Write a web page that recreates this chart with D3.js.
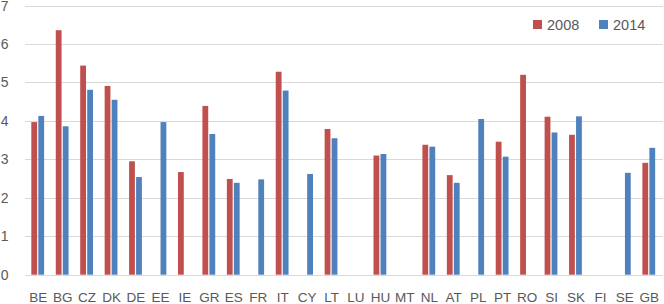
<!DOCTYPE html>
<html><head><meta charset="utf-8">
<script src="https://cdn.jsdelivr.net/npm/d3@7"></script>
<style>body{margin:0;background:#fff}svg{display:block}</style>
</head><body>
<svg id="c" width="664" height="304"></svg>
<script>
const categories = ["BE","BG","CZ","DK","DE","EE","IE","GR","ES","FR","IT","CY","LT","LU","HU","MT","NL","AT","PL","PT","RO","SI","SK","FI","SE","GB"];
const values2008 = [3.97,6.36,5.44,4.91,2.95,null,2.67,4.39,2.49,null,5.28,null,3.79,null,3.10,null,3.38,2.59,null,3.46,5.20,4.11,3.64,null,null,2.91];
const values2014 = [4.13,3.86,4.81,4.55,2.54,3.97,null,3.66,2.39,2.48,4.79,2.62,3.55,null,3.14,null,3.33,2.39,4.05,3.07,null,3.70,4.12,null,2.65,3.30];
const seriesNames = ["2008","2014"];
const colors = ["#C0504D","#4F81BD"];
const yTicks = [0,1,2,3,4,5,6,7];

const svg = d3.select("#c");
const x = d3.scaleBand().domain(categories).range([26, 661.5]);
const y = d3.scaleLinear().domain([0,7]).range([274.7, 5.6]);
const font = "'Liberation Sans', Arial, sans-serif";
const textColor = "#595959";

// gridlines
svg.append("g").selectAll("line").data(yTicks).join("line")
  .attr("x1", 25).attr("x2", 663)
  .attr("y1", d => Math.round(y(d)) + 0.5).attr("y2", d => Math.round(y(d)) + 0.5)
  .attr("stroke", "#D9D9D9").attr("stroke-width", 1.2);

// y labels
svg.append("g").selectAll("text").data(yTicks).join("text")
  .attr("x", 8.5).attr("y", d => y(d) + 5)
  .attr("text-anchor", "end")
  .attr("font-family", font).attr("font-size", 14).attr("fill", textColor)
  .text(d => d);

const barW = 5.8, gap = 1.2;
const series = [values2008, values2014];
series.forEach((vals, si) => {
  svg.append("g").selectAll("rect")
    .data(categories.map((c, i) => ({c, v: vals[i]})).filter(d => d.v != null))
    .join("rect")
    .attr("x", d => x(d.c) + x.bandwidth()/2 + (si === 0 ? -gap/2 - barW : gap/2) - 0.5)
    .attr("y", d => y(d.v))
    .attr("width", barW)
    .attr("height", d => y(0) - y(d.v))
    .attr("fill", colors[si]);
});

// x labels
svg.append("g").selectAll("text").data(categories).join("text")
  .attr("x", d => x(d) + x.bandwidth()/2)
  .attr("y", 301.5)
  .attr("text-anchor", "middle")
  .attr("font-family", font).attr("font-size", 13.5).attr("fill", textColor)
  .text(d => d);

// legend
const legX = [533, 599];
seriesNames.forEach((n, i) => {
  svg.append("rect").attr("x", legX[i]).attr("y", 20).attr("width", 9).attr("height", 9).attr("fill", colors[i]);
  svg.append("text").attr("x", legX[i] + 14).attr("y", 29.5)
    .attr("font-family", font).attr("font-size", 14.5).attr("fill", textColor).text(n);
});
</script>
</body></html>
